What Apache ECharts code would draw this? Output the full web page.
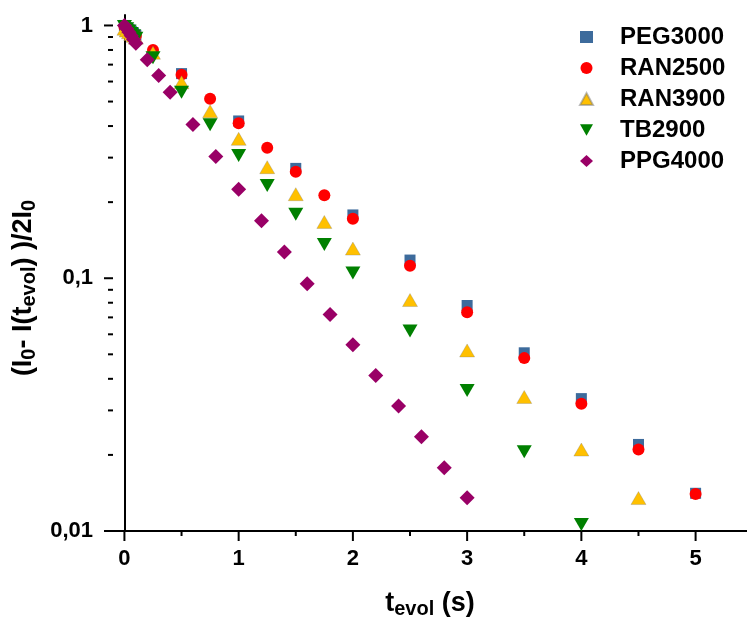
<!DOCTYPE html>
<html>
<head>
<meta charset="utf-8">
<script src="https://cdn.jsdelivr.net/npm/echarts@6/dist/echarts.min.js"></script>
<style>html,body{margin:0;padding:0;background:#fff}#c{width:747px;height:618px}</style>
</head>
<body>
<div id="c"></div>
<script>
// ---- data ----
const pegT   = [0, 0.02, 0.04, 0.06, 0.08, 0.1, 0.5, 1, 1.5, 2, 2.5, 3, 3.5, 4, 4.5, 5];
const pegV   = [1.0, 0.98, 0.965, 0.95, 0.93, 0.915, 0.645, 0.419, 0.272, 0.178, 0.118, 0.078, 0.0507, 0.0334, 0.022, 0.0141];
const ran25T = [0, 0.02, 0.04, 0.06, 0.08, 0.1, 0.25, 0.5, 0.75, 1, 1.25, 1.5, 1.75, 2, 2.5, 3, 3.5, 4, 4.5, 5];
const ran25V = [0.99, 0.975, 0.96, 0.945, 0.925, 0.91, 0.80, 0.639, 0.513, 0.41, 0.328, 0.264, 0.213, 0.172, 0.112, 0.0734, 0.0483, 0.0319, 0.021, 0.0140];
const ran39T = [0, 0.02, 0.04, 0.06, 0.08, 0.1, 0.25, 0.5, 0.75, 1, 1.25, 1.5, 1.75, 2, 2.5, 3, 3.5, 4, 4.5];
const ran39V = [0.97, 0.955, 0.94, 0.925, 0.91, 0.895, 0.78, 0.596, 0.458, 0.356, 0.275, 0.215, 0.167, 0.131, 0.082, 0.0518, 0.0339, 0.021, 0.0135];
const tbT    = [0, 0.02, 0.04, 0.06, 0.08, 0.1, 0.25, 0.5, 0.75, 1, 1.25, 1.5, 1.75, 2, 2.5, 3, 3.5, 4];
const tbV    = [0.99, 0.97, 0.95, 0.93, 0.91, 0.89, 0.746, 0.544, 0.405, 0.306, 0.233, 0.179, 0.136, 0.105, 0.0618, 0.036, 0.0206, 0.0106];
const ppgT   = [0, 0.02, 0.04, 0.06, 0.08, 0.1, 0.2, 0.3, 0.4, 0.6, 0.8, 1.0, 1.2, 1.4, 1.6, 1.8, 2.0, 2.2, 2.4, 2.6, 2.8, 3.0];
const ppgV   = [1.0, 0.97, 0.94, 0.91, 0.88, 0.85, 0.732, 0.634, 0.544, 0.406, 0.303, 0.225, 0.169, 0.127, 0.095, 0.0718, 0.0545, 0.0412, 0.0312, 0.0236, 0.0178, 0.01355];

const seriesNames = ['PEG3000', 'RAN2500', 'RAN3900', 'TB2900', 'PPG4000'];
const xMajorTicks = [0, 1, 2, 3, 4, 5];
const xMinorTicks = [0.5, 1.5, 2.5, 3.5, 4.5];
const yMajorTicks = [0.01, 0.1, 1];
const yMinorTicks = [0.02, 0.03, 0.04, 0.05, 0.06, 0.07, 0.08, 0.09, 0.2, 0.3, 0.4, 0.5, 0.6, 0.7, 0.8, 0.9];

const X_MIN = -0.1, X_MAX = 5.45, Y_MIN = 0.01, Y_MAX = 1.1;
const zip = (a, b) => a.map((t, i) => [t, b[i]]);
const FONT = '"Liberation Sans", Arial, sans-serif';
const downTri = 'path://M0,0 L14,0 L7,12.5 Z';

// axis ticks drawn through the axis scales
function tickSeries(values, dir, len) {
  return {
    type: 'custom', silent: true, clip: false, z: 5,
    data: values.map(v => dir === 'x' ? [v, Y_MIN] : [X_MIN, v]),
    renderItem: (params, api) => {
      const p = api.coord([api.value(0), api.value(1)]);
      const shape = dir === 'x'
        ? {x1: p[0], y1: p[1], x2: p[0], y2: p[1] + len}
        : {x1: p[0] - len, y1: p[1], x2: p[0], y2: p[1]};
      return {type: 'line', shape: shape, style: {stroke: '#000', lineWidth: 2}};
    }
  };
}

const chart = echarts.init(document.getElementById('c'), null, {renderer: 'canvas'});
const axisLine = {show: true, lineStyle: {color: '#000', width: 2}};
chart.setOption({
  animation: false,
  backgroundColor: '#fff',
  grid: {left: 113, top: 15, width: 634, height: 516, containLabel: false, outerBoundsMode: 'none'},
  legend: {
    orient: 'vertical', left: 574, top: 20,
    itemWidth: 13, itemHeight: 12, itemGap: 7,
    textStyle: {fontSize: 24, fontWeight: 'bold', color: '#000', fontFamily: FONT, lineHeight: 24, padding: [0, 0, 0, 22]},
    data: seriesNames
  },
  xAxis: {
    type: 'value', min: X_MIN, max: X_MAX, position: 'bottom',
    axisLine: axisLine, splitLine: {show: false}, axisTick: {show: false},
    axisLabel: {customValues: xMajorTicks, margin: 17, fontSize: 22, fontWeight: 'bold', color: '#000', fontFamily: FONT},
    name: '{a|t}{s|evol}{a| (s)}', nameLocation: 'middle', nameGap: 57,
    nameTextStyle: {rich: {
      a: {fontSize: 27, fontWeight: 'bold', color: '#000', fontFamily: FONT, lineHeight: 31},
      s: {fontSize: 20, fontWeight: 'bold', color: '#000', fontFamily: FONT, verticalAlign: 'bottom', lineHeight: 20}
    }}
  },
  yAxis: {
    type: 'log', logBase: 10, min: Y_MIN, max: Y_MAX, position: 'left',
    axisLine: axisLine, splitLine: {show: false}, minorTick: {show: false}, axisTick: {show: false},
    axisLabel: {customValues: yMajorTicks, margin: 20, fontSize: 22, fontWeight: 'bold', color: '#000', fontFamily: FONT,
      formatter: v => String(v).replace('.', ',')},
    name: '{a|(I}{s|0}{a|- I(t}{s|evol}{a|) )/2I}{s|0}{sp|\u00a0}', nameLocation: 'middle', nameGap: 48,
    nameTextStyle: {rich: {
      a: {fontSize: 27, fontWeight: 'bold', color: '#000', fontFamily: FONT, lineHeight: 31},
      s: {fontSize: 20, fontWeight: 'bold', color: '#000', fontFamily: FONT, verticalAlign: 'bottom', lineHeight: 20},
      sp: {width: 30, fontSize: 20}
    }}
  },
  series: [
    {name: 'PEG3000', type: 'scatter', data: zip(pegT, pegV), symbol: 'rect', symbolSize: 11,
      itemStyle: {color: '#3d6b9c', opacity: 1}},
    {name: 'RAN2500', type: 'scatter', data: zip(ran25T, ran25V), symbol: 'circle', symbolSize: 12,
      itemStyle: {color: '#ff0000', opacity: 1}},
    {name: 'RAN3900', type: 'scatter', data: zip(ran39T, ran39V), symbol: 'triangle', symbolSize: [15, 13],
      itemStyle: {color: '#ffc000', opacity: 1, borderColor: 'rgba(120,120,120,0.5)', borderWidth: 0.6}},
    {name: 'TB2900', type: 'scatter', data: zip(tbT, tbV), symbol: downTri, symbolSize: [15, 13],
      itemStyle: {color: '#008000', opacity: 1}},
    {name: 'PPG4000', type: 'scatter', data: zip(ppgT, ppgV), symbol: 'diamond', symbolSize: [15, 15],
      itemStyle: {color: '#990066', opacity: 1}},
    tickSeries(xMajorTicks, 'x', 10),
    tickSeries(xMinorTicks, 'x', 5),
    tickSeries(yMajorTicks, 'y', 9),
    tickSeries(yMinorTicks, 'y', 5)
  ]
});
</script>
</body>
</html>
